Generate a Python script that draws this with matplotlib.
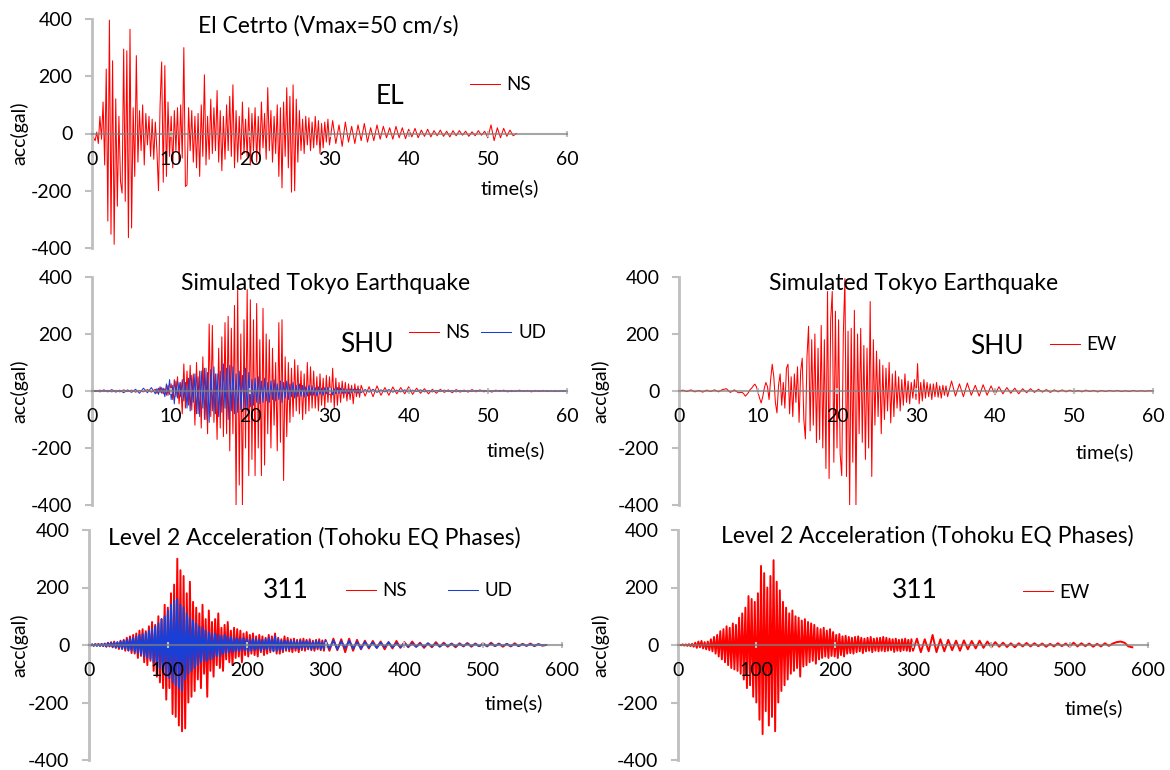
import numpy as np
import matplotlib
matplotlib.use("Agg")
import matplotlib.pyplot as plt

# ---------------- DATA ----------------
# Each record is given as segments: (start time, sampling step, values)
# El Centro NS
el_ns_main = [0, -15, -25, 5, -35, 60, -20, 110, -110, 225,
              -306, 396, -352, 254, -387, 121, -254, 60, -168, -208,
              295, -237, 289, -364, 364, -330, 90, -150, 272, -100,
              80, -60, 100, -110, 70, -40, 60, -80, 50, -90,
              40, -60, -200, 100, 250, -170, 237, -150, 110, -80,
              60, -120, 80, -60, 90, -100, 100, -86, 300, -185,
              -180, 90, -60, 80, -100, 60, -120, 70, -150, 100,
              -80, 205, -110, 60, -90, 120, -70, 90, -60, 150,
              -100, 80, -130, 60, -90, 100, -60, 130, -80, 170,
              -120, 80, -100, 60, -90, 110, -70, 50, -80, 90,
              -110, 70, -60, 90, -100, 60, -80, 110, -50, 70,
              -90, 160, -60, 80, -100, 60, -70, 100, -150, 90,
              -190, 110, -80, 160, -120, 130, -205, 170, -200, 120,
              -100, 80, -60, 50, -70, 60, -40, 55, -60, 40,
              -50, 60, -40, 45, -70, 35, -50, 40, -30, 50]
el_ns_tail = [-40, 45, -35, 30, -45, 40, -30, 25, -35, 30,
              -25, 35, -30, 20, -25, 30, -20, 25, -15, 20,
              -20, 25, -15, 20, -18, 15, -12, 18, -15, 12,
              -10, 15, -12, 10, -8, 12, -10, 8, -12, 10,
              -8, 10, -6, 8, -10, 6, -8, 10, -6, 8,
              -15, 30, -25, 20, -15, 18, -10, 12, -8, 0]

# Simulated Tokyo (SHU) NS
shu_ns_early = [0, -2, 3, -2, 2, -3, 2, -3, 4, -2, 3, -4, 2, -3, 5, -4]
shu_ns_main = [6, -8, 10, -5, 12, -10, 8, -15, 20, -12,
               25, -30, 40, -20, 50, -45, 30, -80, 95, -60,
               70, -50, 90, -67, 60, -120, 100, -80, 70, -130,
               120, -100, 80, -150, 235, -90, 230, -110, 60, -170,
               150, -130, 190, -160, 240, -150, 262, -210, 220, -150,
               300, -400, 360, -330, 200, -400, 250, -200, 356, -297,
               320, -240, 250, -297, 307, -200, 180, -297, 290, -260,
               200, -150, 180, -200, 150, -120, 100, -210, 240, -180,
               250, -314, 120, -160, 100, -110, 80, -90, 110, -70,
               90, -80, 70, -100, 60, -80, 100, -70, 85, -60,
               70, -60, 50, -70, 60, -50, 45, -60, 55, -40,
               50, -40, 80, -60, 45, -50, 30, -40, 35, -25,
               30, -35, 25, -30, 20, -45, 25, -20, 18, -22]
shu_ns_late = [20, -18, 15, -20, 18, -15, 12, -15, 14, -10,
               12, -10, 15, -12, 10, -8, 8, -10, 6, -8,
               6, -5, 4, -6, 5, -4, 3, -4, 5, -3,
               4, -3, 3, -4, 3, -2, 3, -3, 2, -2,
               3, -2, 2, -3, 2, -2, 2, -2, 1, -2,
               1, -1, 0]

# Simulated Tokyo (SHU) UD
shu_ud_early = [0, 2, -3, 4, -3, 5, -4, 3, -6, 4, -5, 6, -8, 10, -6, 12]
shu_ud_main = [-10, 8, -12, 15, -8, 10, -20, 25, -15, 40,
               -30, 20, -45, 35, -25, 30, -20, 40, -35, 30,
               -60, 45, -70, 55, -40, 60, -80, 50, -90, 70,
               -60, 80, -100, 65, -110, 75, -70, 85, -80, 60,
               -90, 70, -75, 95, -60, 80, -100, 90, -70, 85,
               -80, 60, -75, 70, -65, 55, -60, 80, -70, 65,
               -55, 40, -50, 45, -40, 50, -45, 35, -40, 45,
               -35, 30, -40, 35, -30, 40, -35, 25, -30, 35,
               -40, 30, -25, 35, -30, 25, -20, 30, -25, 20,
               -20, 25, -18, 20, -22, 15, -18, 20, -15, 18,
               -15, 12, -18, 15, -12, 10, -15, 12, -10, 14,
               -12, 10, -14, 8, -10, 12, -8, 10, -9, 8,
               -8, 6, -10, 8, -6, 7, -5, 6, -8, 5]
shu_ud_late = [-6, 5, -4, 6, -5, 4, -3, 5, -4, 3,
               -3, 4, -5, 3, -2, 4, -3, 2, -3, 2,
               -2, 3, -2, 2, -3, 2, -2, 1, -2, 2,
               -1, 2, -2, 1, -1, 2, -1, 1, -2, 1,
               -1, 1, -1, 1, -1, 1, -1, 1, -1, 1,
               -1, 1, 0]

# Simulated Tokyo (SHU) EW
shu_ew_early = [0, 3, -2, 4, -3, 2, -4, 3, -2, 4, -3, 5, 8, -5, 4, -6]
shu_ew_main = [-5, -10, -18, -12, -5, 5, 10, 18, 24, 15,
               -5, -25, -42, -20, 10, 30, 15, -30, 40, 94,
               50, -40, -77, 20, 60, -50, 30, -60, 80, 94,
               -80, 50, -90, 60, -40, 85, -110, 70, 115, -100,
               -168, 120, 227, -140, 180, -120, 200, -181, 150, -170,
               230, -200, 180, -272, 349, -307, 250, 349, -250, 280,
               -200, 250, -220, -297, 200, 394, -300, 210, -400, 220,
               -250, 283, -400, 200, -150, 220, -180, 160, -240, 150,
               -200, 314, -300, 180, -120, 140, -90, 110, -150, 90,
               -100, 80, -70, 100, -112, 60, -90, 70, -60, 50,
               -70, 40, -50, 60, -40, 35, -45, 30, -25, 40,
               -30, 96, -45, 30, -35, 40, -25, 30, -20, 25,
               -30, 25, -20, 30, -22, 18, -25, 20, -15, 18]
shu_ew_late = [-20, 35, -18, 25, -20, 28, -15, 20, -18, 22,
               -15, 18, -12, 15, -10, 12, -8, 10, -10, 8,
               -6, 8, -5, 6, -4, 5, -5, 4, -3, 4,
               -3, 3, -4, 2, -3, 3, -2, 2, -3, 2,
               -2, 2, -1, 2, -2, 1, -2, 2, -1, 1,
               -1, 1, 0]

# Level 2 (Tohoku phases, 311) NS
l2_ns_main = [0, -2, 2, -3, 3, -2, 4, -3, 3, -4,
              5, -6, 8, -5, 10, -8, 12, -10, 9, -14,
              15, -12, 18, -20, 25, -18, 30, -28, 35, -30,
              40, -45, 50, -38, 55, -60, 48, -70, 65, -55,
              80, -90, 70, -110, 100, -130, 90, -150, 140, -190,
              130, -150, 180, -240, 210, -250, 300, -280, 260, -300,
              240, -290, 180, -200, 220, -180, 150, -160, 130, -120,
              110, -150, 140, -100, 90, -180, 120, -90, 80, -110,
              90, -70, 110, -80, 60, -90, 70, -50, 80, -60,
              50, -70, 60, -45, 55, -40, 50, -60, 40, -35,
              45, -40, 35, -30, 40, -35, 30, -40, 35, -25,
              30, -35, 25, -30, 35, -25, 30, -20, 40, -30,
              25, -30, 20, -25, 30, -20, 25, -22, 20, -25,
              22, -20, 18, -25, 20, -18, 22, -20, 18, -15,
              20, -18, 15, -20, 18, -15, 20, -18, 16, -20]
l2_ns_tail = [18, -20, 22, -18, 20, -25, 22, -20, 18, -15,
              15, -12, 14, -10, 12, -15, 10, -12, 14, -10,
              10, -8, 12, -6, 8, -10, 6, -8, 10, -6,
              8, -6, 5, -8, 6, -5, 7, -6, 5, -4,
              6, -5, 8, -4, 5, -6, 4, -5, 6, -4,
              4, -3, 5, -4, 3, -2, 0]

# Level 2 (311) UD
l2_ud_main = [0, -2, 2, -2, 3, -3, 2, -3, 4, -3,
              4, -5, 6, -4, 7, -6, 8, -9, 10, -8,
              12, -14, 15, -12, 18, -20, 22, -18, 25, -24,
              30, -28, 35, -32, 38, -40, 42, -45, 50, -48,
              55, -60, 65, -70, 75, -80, 90, -95, 100, -110,
              120, -115, 140, -130, 155, -140, 160, -150, 140, -160,
              130, -120, 110, -100, 95, -90, 85, -80, 75, -70,
              65, -60, 60, -55, 50, -55, 45, -50, 40, -45,
              40, -38, 35, -40, 32, -30, 35, -28, 30, -25,
              28, -25, 25, -22, 24, -20, 22, -20, 25, -18,
              20, -22, 18, -20, 22, -18, 20, -15, 18, -20,
              18, -16, 20, -15, 25, -18, 20, -22, 30, -20,
              20, -18, 15, -18, 16, -14, 15, -15, 14, -12,
              14, -12, 12, -14, 15, -12, 12, -10, 14, -12,
              12, -14, 10, -12, 14, -10, 12, -14, 10, -12]
l2_ud_tail = [14, -12, 15, -14, 12, -10, 14, -12, 10, -12,
              10, -8, 9, -10, 8, -7, 9, -8, 6, -7,
              6, -5, 5, -6, 4, -5, 5, -4, 4, -5,
              4, -3, 4, -4, 3, -3, 4, -3, 3, -4,
              3, -3, 4, -3, 3, -2, 3, -3, 2, -3,
              2, -2, 2, -2, 2, -1, 0]

# Level 2 (311) EW
l2_ew_main = [0, 1, -1, 2, -2, 2, -3, 3, -4, 4,
              -6, 8, -10, 12, -8, 14, -12, 10, -15, 12,
              -18, 20, -22, 28, -30, 35, -40, 48, -50, 55,
              -60, 65, -70, 60, -80, 75, -85, 70, -90, 95,
              -100, 110, -120, 130, -150, 170, -140, 160, -180, 150,
              -200, 180, -260, 275, -310, 250, -230, 200, -280, 240,
              -250, 295, -300, 220, -200, 190, -160, 150, -140, 130,
              -120, 110, -100, 120, -90, 100, -80, 95, -110, 85,
              -75, 90, -70, 80, -60, 75, -55, 70, -65, 60,
              -50, 55, -45, 60, -40, 50, -45, 55, -38, 45,
              -40, 35, -45, 38, -35, 30, -40, 32, -30, 28,
              -28, 25, -30, 28, -25, 30, -22, 25, -28, 22,
              -22, 25, -20, 28, -25, 22, -20, 24, -22, 25,
              -20, 28, -22, 25, -20, 22, -18, 20, -24, 22,
              -20, 18, -22, 20, -18, 22, -20, 18, -22, 20]
l2_ew_tail = [-20, 22, -25, 20, -22, 35, -25, 20, -22, 18,
              -18, 15, -20, 16, -15, 14, -12, 15, -10, 12,
              -8, 10, -6, 8, -7, 6, -8, 6, -5, 7,
              -5, 6, -4, 5, -6, 4, -5, 6, -4, 5,
              -6, 8, -5, 6, -4, 5, -6, 4, -5, 6,
              -3, 5, 10, 12, 8, -5, -8]

ticks_60 = [0, 10, 20, 30, 40, 50, 60]
ticks_600 = [0, 100, 200, 300, 400, 500, 600]
y_ticks = [-400, -200, 0, 200, 400]

# ---------------- FIGURE ----------------
plt.rcParams['font.family'] = ['Lato', 'DejaVu Sans']
plt.rcParams['axes.unicode_minus'] = False
W, H = 1170, 770
fig = plt.figure(figsize=(W / 100, H / 100), dpi=100)

RED = '#ff0000'
BLUE = '#1a3fd6'
GRAY = '#bfbfbf'


def fx(x):
    return x / W


def fy(y):
    return 1 - y / H


def build(segments):
    ts, vs = [], []
    for start, step, vals in segments:
        ts.append(start + step * np.arange(len(vals)))
        vs.append(np.asarray(vals, dtype=float))
    return np.concatenate(ts), np.concatenate(vs)


def make_ax(x0, x1, ytop, ybot, xticks):
    ax = fig.add_axes([fx(x0), fy(ybot), (x1 - x0) / W, (ybot - ytop) / H])
    ax.set_xlim(xticks[0], xticks[-1])
    ax.set_ylim(-400, 400)
    ax.set_xticks(xticks)
    ax.set_yticks(y_ticks)
    ax.set_axisbelow(False)
    for s in ['top', 'right']:
        ax.spines[s].set_visible(False)
    ax.spines['left'].set_color(GRAY)
    ax.spines['left'].set_linewidth(2)
    ax.spines['bottom'].set_position(('data', 0))
    ax.spines['bottom'].set_color('#808080')
    ax.spines['bottom'].set_alpha(0.7)
    ax.spines['bottom'].set_linewidth(1.5)
    ax.spines['bottom'].set_zorder(5)
    ax.tick_params(axis='y', direction='out', length=5, width=1.5,
                   color=GRAY, labelsize=14, pad=9)
    ax.tick_params(axis='x', direction='inout', length=5, width=1.5,
                   color=GRAY, labelsize=14, pad=10)
    ax.patch.set_visible(False)
    return ax


def label_texts(ax_zero_y, ylab_x, title, tx, ty, big, bx, by, timex, timey):
    fig.text(fx(ylab_x), fy(ax_zero_y), 'acc(gal)', rotation=90,
             ha='center', va='center', fontsize=14)
    fig.text(fx(tx), fy(ty), title, ha='center', va='center', fontsize=16.5)
    fig.text(fx(bx), fy(by), big, ha='center', va='center', fontsize=19)
    fig.text(fx(timex), fy(timey), 'time(s)', ha='left', va='center', fontsize=14.5)


def legend(ax, x, y, colsp):
    leg = ax.legend(loc='center left', bbox_to_anchor=(fx(x), fy(y)),
                    bbox_transform=fig.transFigure, frameon=False, ncol=2,
                    handlelength=1.6, handletextpad=0.35, columnspacing=colsp,
                    borderpad=0, borderaxespad=0, fontsize=13.5)
    for ln in leg.get_lines():
        ln.set_linewidth(0.75)


LW = 0.75
LW_DENSE = 1.4

# Panel A: El Centro
axA = make_ax(92, 567, 19, 248, ticks_60)
t, v = build([(0.0, 0.2, el_ns_main), (30.0, 0.4, el_ns_tail)])
axA.plot(t, v, color=RED, lw=LW, label='NS')
legend(axA, 470, 85, 0.5)
label_texts(133, 19, 'El Cetrto (Vmax=50 cm/s)', 328, 26, 'EL', 390, 97, 481, 188)

# Panel B: Simulated Tokyo NS/UD
axB = make_ax(92, 567, 277, 505, ticks_60)
t, v = build([(0.0, 0.5, shu_ns_early), (8.0, 0.2, shu_ns_main), (34.0, 0.5, shu_ns_late)])
axB.plot(t, v, color=RED, lw=LW, label='NS')
t, v = build([(0.0, 0.5, shu_ud_early), (8.0, 0.2, shu_ud_main), (34.0, 0.5, shu_ud_late)])
axB.plot(t, v, color=BLUE, lw=LW, label='UD')
legend(axB, 409, 333, 0.6)
label_texts(391, 19, 'Simulated Tokyo Earthquake', 326, 283, 'SHU', 367, 345, 487, 450)

# Panel C: Simulated Tokyo EW
axC = make_ax(679, 1153, 277, 505, ticks_60)
t, v = build([(0.0, 0.5, shu_ew_early), (8.0, 0.2, shu_ew_main), (34.0, 0.5, shu_ew_late)])
axC.plot(t, v, color=RED, lw=LW, label='EW')
legend(axC, 1050, 345, 0.5)
label_texts(391, 600, 'Simulated Tokyo Earthquake', 914, 283, 'SHU', 997, 347, 1076, 452)

# Panel D: Level 2 NS/UD
axD = make_ax(89, 562, 530, 760, ticks_600)
t, v = build([(0.0, 2.0, l2_ns_main), (300.0, 5.0, l2_ns_tail)])
axD.plot(t, v, color=RED, lw=LW_DENSE, label='NS')
t, v = build([(0.0, 2.0, l2_ud_main), (300.0, 5.0, l2_ud_tail)])
axD.plot(t, v, color=BLUE, lw=LW_DENSE, label='UD')
legend(axD, 346, 591, 2.2)
label_texts(645, 19, 'Level 2 Acceleration (Tohoku EQ Phases)', 314, 538, '311', 286, 591, 485, 703)

# Panel E: Level 2 EW
axE = make_ax(678, 1148, 530, 760, ticks_600)
t, v = build([(0.0, 2.0, l2_ew_main), (300.0, 5.0, l2_ew_tail)])
axE.plot(t, v, color=RED, lw=LW_DENSE, label='EW')
legend(axE, 1023, 592, 0.5)
label_texts(645, 600, 'Level 2 Acceleration (Tohoku EQ Phases)', 927, 536, '311', 915, 590, 1065, 708)

fig.savefig('out.png', dpi=100)
